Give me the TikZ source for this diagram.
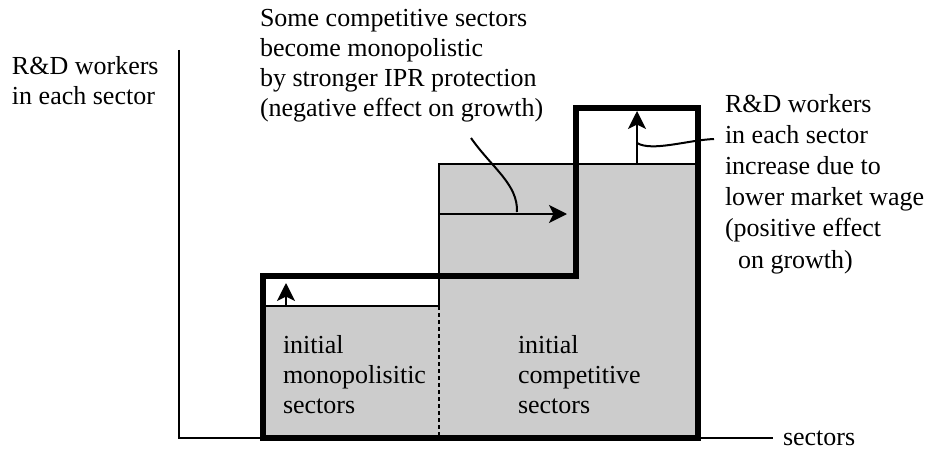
\documentclass[tikz,border=0pt]{standalone}
\usepackage{fontspec}
\setmainfont{Liberation Serif}
\usetikzlibrary{arrows.meta}
\definecolor{hatch}{RGB}{204,204,204}
\tikzset{
  txt/.style={inner sep=0pt, outer sep=0pt, align=left, anchor=base west,
              font=\fontsize{26}{30}\selectfont},
  thin/.style={line width=2pt},
  thick outline/.style={line width=6.5pt, line join=miter},
  arr/.style={line width=2pt, -{Stealth[length=18pt,width=18pt,inset=4.5pt]}},
  leader/.style={line width=2pt},
}
\begin{document}
\begin{tikzpicture}[x=1pt,y=-1pt]
\path[use as bounding box] (0,0) rectangle (927,452);

% gray area
\fill[hatch] (263,306) -- (439,306) -- (439,164) -- (698,164) -- (698,438) -- (263,438) -- cycle;
\draw[thin] (263,306) -- (439,306) -- (439,164) -- (698,164);
\draw[line width=2pt, dash pattern=on 4pt off 3pt] (439,306) -- (439,438);

% axes
\coordinate (ytop) at (179,50);
\coordinate (origin) at (179,438);
\coordinate (xend) at (773,438);
\draw[thin] (ytop) -- (origin) -- (xend);

% thick outline
\draw[thick outline] (263,438) -- (263,276) -- (576,276) -- (576,108) -- (698,108) -- (698,438) -- cycle;

% arrows
\coordinate (a1s) at (286,306);
\coordinate (a1e) at (286,283);
\draw[arr] (a1s) -- (a1e);
\coordinate (a2s) at (439,214);
\coordinate (a2e) at (567,214);
\draw[arr] (a2s) -- (a2e);
\coordinate (a3s) at (637,164);
\coordinate (a3e) at (637,111);
\draw[arr] (a3s) -- (a3e);

% texts (anchor = baseline of the last line)
\node[txt] (ylab) at (12,104) {R\&D workers\\in each sector};
\node[txt] (toptxt) at (260,117) {Some competitive sectors\\become monopolistic\\by stronger IPR protection\\(negative effect on growth)};
\node[txt, font=\fontsize{26}{31.2}\selectfont] (righttxt) at (725,268) {R\&D workers\\in each sector\\increase due to\\lower market wage\\(positive effect\\\hspace*{13pt}on growth)};
\node[txt] (mono) at (283,413) {initial\\monopolisitic\\sectors};
\node[txt] (comp) at (518,413) {initial\\competitive\\sectors};
\node[txt] (xlab) at (783,445) {sectors};

% leaders
\coordinate (l1s) at (471,138);
\coordinate (l1e) at (517,212);
\draw[leader] (l1s) .. controls (492,168) and (518,184) .. (l1e);
\coordinate (l2s) at (637,143);
\coordinate (l2e) at (714,139);
\draw[leader] (l2s) .. controls (652,152) and (688,140) .. (l2e);
\end{tikzpicture}
\end{document}
